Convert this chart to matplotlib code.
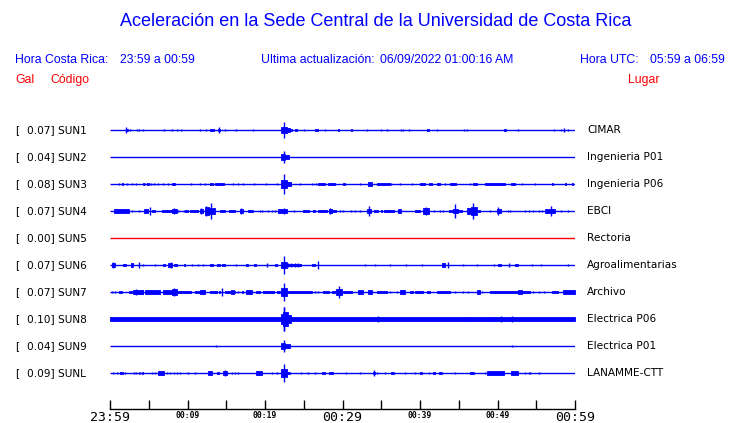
import matplotlib
matplotlib.use("Agg")
import matplotlib.pyplot as plt
from matplotlib import transforms

# ---------------- data ----------------
stations = ["SUN1", "SUN2", "SUN3", "SUN4", "SUN5", "SUN6", "SUN7", "SUN8", "SUN9", "SUNL"]
peak_gal = [0.07, 0.04, 0.08, 0.07, 0.00, 0.07, 0.07, 0.10, 0.04, 0.09]
places = ["CIMAR", "Ingenieria P01", "Ingenieria P06", "EBCI", "Rectoria",
          "Agroalimentarias", "Archivo", "Electrica P06", "Electrica P01", "LANAMME-CTT"]
noise_gal = [0.0, 0.0, 0.0, 0.0, 0.0, 0.0, 0.0, 0.0135, 0.0, 0.0]
tick_minutes = [0, 5, 10, 15, 20, 25, 30, 35, 40, 45, 50, 55, 60]
tick_labels = ["23:59", "", "00:09", "", "00:19", "", "00:29", "", "00:39", "", "00:49", "", "00:59"]

# bursts per station: (start minute, end minute, half amplitude in Gal)
sun1 = [(2.0, 2.3, 0.012), (2.1, 2.1, 0.021), (2.6, 2.6, 0.008), (3.5, 3.5, 0.008), (3.8, 3.8, 0.008),
        (4.2, 4.2, 0.008), (7.0, 7.0, 0.006), (8.0, 8.0, 0.006), (8.7, 8.7, 0.006), (9.2, 9.2, 0.006),
        (11.6, 11.6, 0.008), (12.4, 12.4, 0.008), (12.9, 13.4, 0.01), (13.9, 14.2, 0.012), (14.0, 14.0, 0.028),
        (14.8, 14.8, 0.007), (16.3, 16.3, 0.007), (18.5, 18.5, 0.007),
        (22.1, 22.8, 0.022), (22.8, 23.2, 0.014), (22.45, 22.45, 0.067),
        (23.3, 23.5, 0.012), (23.9, 24.1, 0.012), (25.0, 25.0, 0.008), (26.5, 26.9, 0.012), (27.7, 27.7, 0.007),
        (29.4, 29.6, 0.012), (31.05, 31.2, 0.012), (33.2, 33.2, 0.008), (35.0, 35.0, 0.008), (35.7, 35.7, 0.008),
        (37.5, 37.5, 0.008), (37.8, 37.8, 0.008), (38.6, 38.6, 0.008), (40.9, 41.2, 0.01), (42.2, 42.2, 0.008),
        (45.7, 45.7, 0.008), (46.1, 46.1, 0.008), (50.9, 51.1, 0.01), (52.7, 52.7, 0.008), (57.3, 57.3, 0.008),
        (58.2, 58.2, 0.008), (58.6, 58.6, 0.014), (59.1, 59.1, 0.008)]
sun2 = [(22.1, 22.6, 0.025), (22.6, 23.1, 0.015), (22.45, 22.45, 0.046)]
sun3 = [(1.1, 1.1, 0.008), (1.5, 1.7, 0.01), (2.2, 2.2, 0.008), (2.9, 2.9, 0.008), (3.4, 3.4, 0.008),
        (4.2, 4.4, 0.01), (4.5, 4.5, 0.008), (4.8, 5.0, 0.01), (5.3, 5.3, 0.008), (5.7, 5.7, 0.008),
        (6.2, 6.2, 0.008), (6.8, 6.8, 0.008), (7.5, 7.5, 0.008), (8.0, 8.4, 0.01), (10.5, 10.5, 0.008),
        (11.6, 11.6, 0.008), (12.3, 12.3, 0.008), (12.9, 13.3, 0.012), (13.6, 14.7, 0.01), (15.9, 15.9, 0.008),
        (16.5, 16.5, 0.008), (17.2, 17.2, 0.008), (18.6, 18.6, 0.008), (20.1, 20.1, 0.008), (21.5, 21.5, 0.008),
        (22.1, 22.8, 0.035), (22.8, 23.4, 0.017), (22.45, 22.45, 0.083),
        (24.5, 24.5, 0.008), (26.0, 26.0, 0.008), (26.6, 26.6, 0.008), (26.9, 27.7, 0.01), (28.1, 29.0, 0.01),
        (30.0, 30.3, 0.01), (32.3, 32.3, 0.008), (33.3, 33.8, 0.015), (34.4, 36.1, 0.01), (36.3, 36.3, 0.008),
        (37.4, 37.4, 0.008), (39.0, 39.0, 0.008), (40.0, 40.6, 0.01), (41.1, 41.5, 0.01), (42.2, 42.6, 0.01),
        (43.2, 43.2, 0.008), (43.9, 44.6, 0.01), (46.5, 46.5, 0.008), (46.8, 47.3, 0.01), (48.4, 51.0, 0.012),
        (51.8, 52.3, 0.01), (53.2, 53.2, 0.008), (54.9, 54.9, 0.008), (57.0, 57.2, 0.01), (58.7, 58.9, 0.01),
        (59.6, 59.8, 0.01)]
sun4 = [(0.55, 2.5, 0.014), (2.9, 2.9, 0.008), (3.7, 3.7, 0.008), (4.4, 4.9, 0.017), (5.2, 5.2, 0.035),
        (5.4, 5.8, 0.012), (6.7, 8.0, 0.012), (8.0, 8.6, 0.02), (8.2, 8.2, 0.028), (8.8, 8.8, 0.008),
        (9.5, 9.5, 0.008), (9.7, 10.1, 0.01), (10.3, 11.4, 0.012), (11.6, 12.0, 0.02), (11.7, 11.7, 0.025),
        (12.2, 12.8, 0.03), (12.4, 12.4, 0.04), (12.8, 13.5, 0.025), (13.0, 13.0, 0.067), (14.2, 14.8, 0.008),
        (15.4, 16.1, 0.008), (16.8, 17.1, 0.02), (16.9, 16.9, 0.028), (17.8, 18.5, 0.012), (19.4, 19.4, 0.008),
        (19.6, 19.6, 0.008), (20.4, 20.4, 0.008), (20.9, 20.9, 0.008), (21.3, 21.3, 0.008), (21.7, 22.8, 0.013),
        (22.5, 22.5, 0.025), (23.8, 23.8, 0.008), (24.9, 25.7, 0.012), (26.2, 26.5, 0.008), (26.9, 28.0, 0.008),
        (28.3, 28.6, 0.02), (28.4, 28.4, 0.025), (28.7, 29.1, 0.01), (29.7, 29.7, 0.008), (30.0, 30.0, 0.008),
        (31.1, 31.1, 0.008), (31.6, 31.6, 0.008), (32.3, 32.3, 0.008), (33.2, 33.7, 0.018), (33.4, 33.4, 0.04),
        (34.1, 34.6, 0.01), (35.0, 35.1, 0.01), (35.3, 36.6, 0.012), (37.1, 37.5, 0.017), (39.3, 40.0, 0.012),
        (40.4, 41.2, 0.022), (40.8, 40.8, 0.03), (41.8, 41.8, 0.008), (42.6, 42.6, 0.008), (43.0, 43.0, 0.008),
        (43.7, 44.3, 0.012), (44.3, 44.9, 0.02), (44.5, 44.5, 0.06), (44.9, 45.4, 0.012), (46.1, 46.6, 0.025),
        (46.6, 47.3, 0.033), (46.9, 46.9, 0.067), (47.5, 47.7, 0.008), (49.0, 49.0, 0.008), (49.9, 50.5, 0.017),
        (50.0, 50.0, 0.033), (51.4, 51.4, 0.008), (51.6, 51.6, 0.008), (53.5, 53.5, 0.008), (54.0, 54.0, 0.008),
        (54.6, 54.6, 0.008), (55.3, 55.3, 0.008), (55.7, 55.7, 0.008), (56.1, 57.4, 0.017), (56.9, 56.9, 0.042),
        (58.2, 58.2, 0.008), (59.1, 59.1, 0.008)]
sun5 = []
sun6 = [(0.2, 0.6, 0.017), (0.4, 0.4, 0.025), (1.7, 2.0, 0.012), (2.7, 3.0, 0.015), (3.8, 3.8, 0.025),
        (4.3, 4.3, 0.01), (5.8, 5.8, 0.006), (6.9, 7.1, 0.008), (7.5, 8.0, 0.017), (7.9, 7.9, 0.025),
        (8.2, 8.6, 0.012), (9.5, 9.7, 0.008), (10.6, 10.6, 0.008), (11.3, 11.3, 0.008), (12.0, 12.0, 0.008),
        (12.9, 13.3, 0.008), (13.8, 14.2, 0.012), (14.4, 14.8, 0.012), (16.3, 16.3, 0.008), (17.6, 17.8, 0.01),
        (18.6, 18.9, 0.008), (20.3, 20.3, 0.02), (21.3, 21.6, 0.01), (22.1, 22.8, 0.025), (22.4, 22.4, 0.075),
        (22.8, 24.6, 0.008), (23.0, 23.0, 0.017), (23.4, 23.4, 0.017), (23.9, 23.9, 0.015), (24.3, 24.3, 0.017),
        (24.5, 24.5, 0.012), (26.0, 26.5, 0.012), (26.8, 26.8, 0.03), (32.9, 32.9, 0.008), (34.2, 34.2, 0.008),
        (36.1, 36.1, 0.008), (38.2, 38.2, 0.008), (40.3, 40.3, 0.008), (42.8, 43.2, 0.015), (43.6, 43.6, 0.025),
        (45.5, 45.5, 0.01), (47.3, 47.3, 0.008), (49.5, 49.5, 0.01), (50.0, 50.5, 0.01), (51.5, 51.5, 0.02),
        (52.2, 52.6, 0.01), (54.4, 54.4, 0.008), (55.6, 55.6, 0.01), (59.1, 59.1, 0.008)]
sun7 = [(0.2, 0.2, 0.008), (0.6, 0.6, 0.008), (1.1, 1.5, 0.01), (2.4, 2.8, 0.01), (3.0, 4.3, 0.015),
        (3.4, 3.4, 0.025), (3.9, 4.3, 0.02), (4.5, 6.5, 0.013), (6.9, 8.4, 0.013), (8.0, 8.6, 0.025),
        (8.2, 8.2, 0.03), (8.4, 10.5, 0.01), (11.0, 12.3, 0.012), (11.6, 12.2, 0.02), (12.9, 13.8, 0.012),
        (14.0, 14.2, 0.01), (14.5, 14.5, 0.03), (14.8, 16.1, 0.012), (15.6, 16.0, 0.02), (16.5, 16.5, 0.008),
        (17.0, 17.2, 0.01), (17.6, 18.3, 0.017), (18.9, 19.4, 0.008), (19.7, 21.1, 0.01), (21.5, 21.9, 0.01),
        (22.1, 22.9, 0.035), (22.4, 22.4, 0.075), (23.0, 26.0, 0.012), (26.4, 26.4, 0.008), (26.9, 26.9, 0.008),
        (27.5, 28.2, 0.01), (28.6, 29.0, 0.01), (29.1, 29.9, 0.025), (29.5, 29.5, 0.046), (30.1, 31.2, 0.008),
        (32.0, 32.6, 0.015), (33.3, 33.8, 0.017), (34.4, 35.7, 0.012), (36.1, 36.1, 0.008), (37.0, 37.0, 0.008),
        (37.4, 38.1, 0.017), (38.7, 39.1, 0.008), (39.4, 40.4, 0.01), (40.9, 41.3, 0.01), (42.2, 43.9, 0.012),
        (44.5, 44.5, 0.008), (45.6, 45.6, 0.008), (46.2, 46.2, 0.008), (47.3, 47.7, 0.017), (48.0, 48.0, 0.008),
        (49.0, 54.2, 0.012), (52.7, 53.1, 0.018), (54.6, 54.6, 0.008), (55.3, 55.3, 0.008), (56.0, 56.0, 0.008),
        (57.0, 57.8, 0.01), (58.5, 60.0, 0.013)]
sun8 = [(22.0, 22.3, 0.04), (22.3, 23.0, 0.06), (23.0, 23.3, 0.035), (22.4, 22.4, 0.1), (22.5, 22.5, 0.1),
        (34.6, 34.6, 0.025), (46.0, 46.0, 0.018), (49.3, 49.3, 0.018), (50.4, 50.4, 0.025), (51.9, 51.9, 0.025)]
sun9 = [(13.7, 13.7, 0.006), (22.1, 22.6, 0.025), (22.6, 23.2, 0.015), (22.45, 22.45, 0.046), (51.9, 51.9, 0.012)]
sunl = [(0.4, 0.4, 0.008), (0.9, 0.9, 0.008), (1.3, 1.7, 0.01), (1.9, 1.9, 0.008), (3.1, 3.1, 0.008),
        (3.4, 3.4, 0.008), (3.7, 3.7, 0.008), (3.9, 3.9, 0.008), (4.1, 4.3, 0.012), (5.4, 5.4, 0.008),
        (5.8, 5.8, 0.008), (6.2, 7.0, 0.015), (7.3, 7.3, 0.008), (7.7, 7.7, 0.008), (8.2, 8.2, 0.008),
        (8.6, 8.6, 0.008), (9.0, 9.0, 0.008), (10.1, 10.1, 0.008), (11.0, 11.0, 0.008), (12.7, 13.1, 0.013),
        (13.8, 14.0, 0.01), (14.6, 15.1, 0.015), (14.8, 14.8, 0.025), (15.7, 15.7, 0.01), (16.1, 16.1, 0.01),
        (16.5, 16.5, 0.01), (18.9, 19.6, 0.015), (20.9, 20.9, 0.008), (21.6, 21.6, 0.008), (22.1, 22.8, 0.03),
        (22.4, 22.4, 0.075), (22.8, 23.2, 0.012), (24.7, 24.7, 0.008), (25.6, 25.6, 0.008), (26.5, 26.5, 0.008),
        (27.4, 27.7, 0.012), (28.3, 28.8, 0.012), (30.4, 30.4, 0.008), (32.3, 32.3, 0.008), (33.9, 34.2, 0.012),
        (34.0, 34.0, 0.025), (34.4, 34.4, 0.008), (35.5, 35.5, 0.008), (36.3, 36.6, 0.012), (38.0, 38.0, 0.008),
        (39.4, 39.4, 0.008), (40.0, 40.3, 0.012), (41.1, 41.1, 0.008), (41.7, 41.9, 0.01), (42.4, 42.9, 0.012),
        (44.5, 44.5, 0.008), (46.5, 47.0, 0.01), (48.4, 48.4, 0.008), (48.7, 50.8, 0.015), (51.8, 52.7, 0.015),
        (53.6, 53.6, 0.008), (54.0, 54.0, 0.008), (54.2, 54.2, 0.008), (55.4, 55.4, 0.008)]
bursts = [sun1, sun2, sun3, sun4, sun5, sun6, sun7, sun8, sun9, sunl]

# ---------------- figure ----------------
W, H = 740, 423
fig = plt.figure(figsize=(W / 100, H / 100), dpi=100)
fig.patch.set_facecolor("white")

def fx(px):
    return px / W

def fy(py):
    return 1 - py / H

BLUE = "#0000ff"
RED = "#ff0000"
hfont = "Liberation Sans"

fig.text(fx(376), fy(22), "Aceleración en la Sede Central de la Universidad de Costa Rica",
         ha="center", va="center", color=BLUE, fontsize=13.0, family=hfont)
sub = dict(va="center", color=BLUE, fontsize=8.8, family=hfont)
fig.text(fx(15), fy(60), "Hora Costa Rica:", **sub)
fig.text(fx(120), fy(60), "23:59 a 00:59", **sub)
fig.text(fx(261), fy(60), "Ultima actualización:", **sub)
fig.text(fx(380), fy(60), "06/09/2022 01:00:16 AM", **sub)
fig.text(fx(580), fy(60), "Hora UTC:", **sub)
fig.text(fx(650), fy(60), "05:59 a 06:59", **sub)
red = dict(va="center", color=RED, fontsize=8.8, family=hfont)
fig.text(fx(15), fy(80), "Gal", **red)
fig.text(fx(50), fy(80), "Código", **red)
fig.text(fx(628), fy(80), "Lugar", **red)

# trace axes: x in minutes, y in row units (row i at pixel 130 + 27 i)
x0, x1 = 110, 575
ytop, ybot = 100, 409
ax = fig.add_axes([fx(x0), 1 - ybot / H, (x1 - x0) / W, (ybot - ytop) / H])
row0, rowsp = 130, 27
ax.set_xlim(0, 60)
ax.set_ylim((ybot - row0) / rowsp, (ytop - row0) / rowsp)
for s in ["top", "left", "right"]:
    ax.spines[s].set_visible(False)
ax.spines["bottom"].set_linewidth(1.0)
ax.set_yticks([])
ax.set_xticks(tick_minutes)
ax.set_xticklabels(tick_labels)
ax.tick_params(axis="x", direction="in", length=6.5, width=1.0, pad=1.5, colors="black")
for lab, txt in zip(ax.get_xticklabels(), tick_labels):
    lab.set_family("DejaVu Sans Mono")
    if txt in ("23:59", "00:29", "00:59"):
        lab.set_fontsize(9.5)
    else:
        lab.set_fontsize(5.8)
        lab.set_fontweight("bold")

gain = 120.0 / rowsp  # rows per Gal
lw = 1.0
for i, (st, pk, pl, nz, bl) in enumerate(zip(stations, peak_gal, places, noise_gal, bursts)):
    col = RED if pk == 0 else BLUE
    ax.hlines(i, 0, 60, color=col, lw=lw)
    if nz > 0:
        ax.fill_between([0, 60], i - nz * gain, i + nz * gain, color=col, lw=0.6, edgecolor=col)
    for (t0, t1, a) in bl:
        if t1 - t0 < 0.05:
            ax.vlines(t0, i - a * gain, i + a * gain, color=col, lw=lw)
        else:
            ax.fill_between([t0, t1], i - a * gain, i + a * gain, color=col, lw=0.6, edgecolor=col)
    tr = transforms.blended_transform_factory(fig.transFigure, ax.transData)
    ax.text(fx(15), i, "[", transform=tr, va="center", ha="left", fontsize=7.6, family="DejaVu Sans")
    ax.text(fx(27), i, f"{pk:.2f}] {st}", transform=tr, va="center", ha="left", fontsize=7.6,
            family="DejaVu Sans")
    ax.text(fx(587), i, pl, transform=tr, va="center", ha="left", fontsize=7.6, family="DejaVu Sans")

fig.savefig("out.png", dpi=100)
